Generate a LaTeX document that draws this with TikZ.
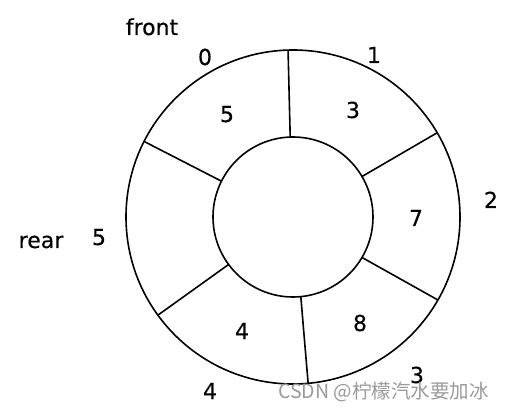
\documentclass[tikz,border=0pt]{standalone}
\usepackage{fontspec}
\setmainfont{DejaVu Sans}[FakeBold=0.3]
\newfontfamily\cjkfont{Noto Sans CJK SC}
\usetikzlibrary{calc}
\begin{document}
\begin{tikzpicture}[x=1pt,y=1pt,
  ring/.style={line width=1.6pt, black},
  lbl/.style={font=\fontsize{22}{24}\selectfont, anchor=base, inner sep=0pt},
  wm/.style={font=\cjkfont\fontsize{19.5}{21}\selectfont, anchor=base west, inner sep=0pt, text=black!40}]
\useasboundingbox (0,0) rectangle (506,410);
\coordinate (c) at (293,193);
\draw[ring] (c) circle[radius=167];
\draw[ring] (c) circle[radius=80];
% spokes
\draw[ring] ($(c)+(91.7:167)$) -- ($(c)+(92:80)$);
\draw[ring] ($(c)+(153.1:167)$) -- ($(c)+(153.4:80)$);
\draw[ring] ($(c)+(30.3:167)$) -- ($(c)+(30.4:80)$);
\draw[ring] ($(c)+(-29.8:167)$) -- ($(c)+(-30.4:80)$);
\draw[ring] ($(c)+(-84.8:167)$) -- ($(c)+(-84.4:80)$);
\draw[ring] ($(c)+(216:167)$) -- ($(c)+(216.4:80)$);
% labels
\node[lbl] (front) at (152,375) {front};
\node[lbl] (i0) at (205,345) {0};
\node[lbl] (i1) at (374,347) {1};
\node[lbl] (i2) at (491,202) {2};
\node[lbl] (i3) at (417,27) {3};
\node[lbl] (i4) at (210,11) {4};
\node[lbl] (i5) at (99,165) {5};
\node[lbl] (rear) at (41,162) {rear};
\node[lbl] (v0) at (227,288) {5};
\node[lbl] (v1) at (353,292) {3};
\node[lbl] (v2) at (416,184) {7};
\node[lbl] (v3) at (360,79) {8};
\node[lbl] (v4) at (242,71) {4};
\node[wm] (mark) at (278,12) {CSDN @柠檬汽水要加冰};
\end{tikzpicture}
\end{document}
